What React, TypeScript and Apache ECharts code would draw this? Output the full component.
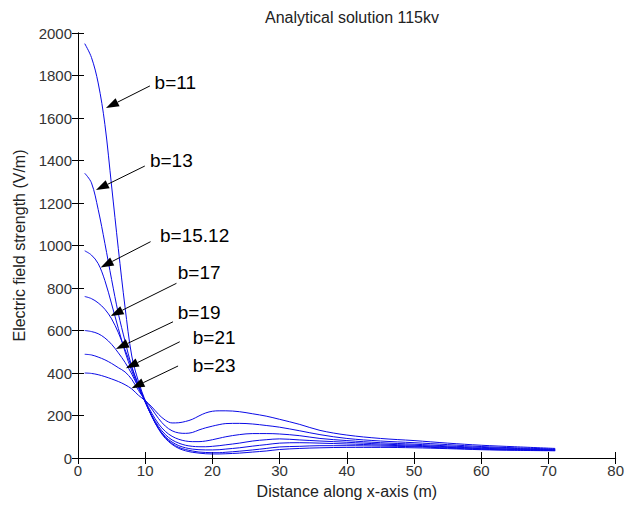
import React, { useEffect, useRef } from "react";
import * as echarts from "echarts";

const xs = [1, 2, 3, 4, 5, 6, 7, 8, 9, 10, 11, 12, 13, 14, 15, 16, 17, 18, 19, 20, 21, 22, 24, 26, 28, 30, 33, 36, 40, 45, 50, 55, 60, 65, 71];

const b11 = [1950, 1885, 1765, 1570, 1280, 985, 710, 480, 360, 270, 195, 135, 92, 64, 45, 34, 27, 23, 20, 19, 19, 20, 23, 28, 33, 40, 45, 48, 50, 50, 48, 44, 39, 36, 34];
const b13 = [1340, 1295, 1170, 1010, 840, 680, 550, 430, 345, 265, 195, 138, 96, 68, 50, 40, 33, 28, 26, 25, 25, 27, 32, 38, 45, 52, 55, 58, 58, 56, 53, 47, 41, 38, 35];
const b1512 = [975, 955, 915, 835, 725, 610, 500, 410, 335, 262, 195, 140, 100, 75, 58, 48, 42, 39, 38, 38, 39, 42, 48, 56, 63, 70, 72, 70, 66, 61, 56, 50, 44, 40, 37];
const b17 = [760, 750, 730, 700, 655, 590, 510, 425, 340, 265, 200, 148, 110, 85, 70, 60, 55, 53, 53, 55, 58, 62, 70, 80, 86, 90, 85, 80, 74, 66, 60, 53, 46, 42, 38];
const b19 = [600, 595, 585, 565, 535, 495, 450, 395, 330, 268, 210, 160, 125, 102, 88, 80, 77, 77, 80, 86, 93, 100, 110, 115, 115, 113, 105, 92, 82, 72, 65, 57, 50, 45, 40];
const b21 = [488, 485, 475, 462, 445, 425, 405, 370, 318, 272, 230, 185, 150, 128, 118, 116, 120, 132, 142, 150, 157, 162, 163, 160, 153, 145, 128, 110, 92, 80, 72, 63, 54, 48, 42];
const b23 = [400, 398, 392, 383, 372, 360, 345, 325, 295, 270, 240, 205, 178, 165, 166, 172, 182, 198, 212, 220, 222, 222, 218, 208, 197, 182, 158, 130, 108, 92, 82, 70, 60, 53, 45];

const seriesNames = ["b=11", "b=13", "b=15.12", "b=17", "b=19", "b=21", "b=23"];
const seriesValues = [b11, b13, b1512, b17, b19, b21, b23];

// annotation: label text, label anchor (data), arrow tail (data), arrow tip (data)
const annLabels = ["b=11", "b=13", "b=15.12", "b=17", "b=19", "b=21", "b=23"];
const annLabelPos = [[11.4, 1765], [10.7, 1402], [12.2, 1045], [14.84, 875], [14.84, 687], [17.07, 569], [17.07, 433]];
const annTail = [[10.7, 1751], [9.94, 1374], [10.8, 1018], [14.65, 822], [14.14, 641], [15.14, 547], [14.89, 433]];
const annTip = [[4.16, 1647], [2.67, 1261], [3.37, 897], [4.85, 668], [5.64, 513], [7.12, 422], [7.97, 328]];

const titleText = "Analytical solution 115kv";
const xName = "Distance along x-axis (m)";
const yName = "Electric field strength (V/m)";

const FONT = "'Liberation Sans', Arial, sans-serif";

export default function App() {
  const ref = useRef<HTMLDivElement>(null);
  useEffect(() => {
    if (!ref.current) return;
    const chart = echarts.init(ref.current, undefined, { renderer: "svg" });
    const axisLine = { show: true, lineStyle: { color: "#000", width: 1 } };
    const tick = { show: true, inside: true, length: 6, lineStyle: { color: "#000" } };
    const lbl = { color: "#333", fontSize: 15, fontFamily: FONT, formatter: (v: number) => String(v) };
    chart.setOption({
      animation: false,
      backgroundColor: "#fff",
      title: {
        text: titleText,
        left: 347,
        textAlign: "center",
        top: 4,
        textStyle: { fontSize: 16, fontWeight: "normal", color: "#222", fontFamily: FONT },
      },
      grid: { left: 78, right: 10, top: 33, bottom: 51, containLabel: false },
      xAxis: [
        {
          type: "value", min: 0, max: 80, interval: 10, position: "bottom",
          name: xName, nameLocation: "middle", nameGap: 25,
          nameTextStyle: { fontSize: 16, color: "#222", fontFamily: FONT },
          axisLine, axisTick: tick, splitLine: { show: false },
          axisLabel: { ...lbl, margin: 5 },
        },
        {
          type: "value", min: 0, max: 80, interval: 10, position: "top",
          axisLine, axisTick: tick, splitLine: { show: false }, axisLabel: { show: false },
        },
      ],
      yAxis: [
        {
          type: "value", min: 0, max: 2000, interval: 200, position: "left",
          name: yName, nameLocation: "middle", nameGap: 51,
          nameTextStyle: { fontSize: 16, color: "#222", fontFamily: FONT },
          axisLine, axisTick: tick, splitLine: { show: false },
          axisLabel: { ...lbl, margin: 6 },
        },
        {
          type: "value", min: 0, max: 2000, interval: 200, position: "right",
          axisLine, axisTick: tick, splitLine: { show: false }, axisLabel: { show: false },
        },
      ],
      series: seriesValues.map((vals, i) => ({
        name: seriesNames[i],
        type: "line",
        xAxisIndex: 0,
        yAxisIndex: 0,
        data: xs.map((x, j) => [x, vals[j]]),
        showSymbol: false,
        smooth: 0.35,
        lineStyle: { color: "#0a0ae6", width: 1 },
        itemStyle: { color: "#0a0ae6" },
      })),
    });

    const graphics: any[] = [];
    for (let i = 0; i < annLabels.length; i++) {
      const lp = chart.convertToPixel({ gridIndex: 0 }, annLabelPos[i]) as number[];
      const tl = chart.convertToPixel({ gridIndex: 0 }, annTail[i]) as number[];
      const tp = chart.convertToPixel({ gridIndex: 0 }, annTip[i]) as number[];
      const dx = tp[0] - tl[0];
      const dy = tp[1] - tl[1];
      const len = Math.sqrt(dx * dx + dy * dy);
      const ux = dx / len, uy = dy / len;
      const L = 13, W = 4.5;
      const bx = tp[0] - ux * L, by = tp[1] - uy * L;
      graphics.push({
        type: "line",
        shape: { x1: tl[0], y1: tl[1], x2: bx, y2: by },
        style: { stroke: "#000", lineWidth: 1 },
        z: 100,
      });
      graphics.push({
        type: "polygon",
        shape: { points: [[tp[0], tp[1]], [bx - uy * W, by + ux * W], [bx + uy * W, by - ux * W]] },
        style: { fill: "#000" },
        z: 100,
      });
      graphics.push({
        type: "text",
        x: lp[0],
        y: lp[1],
        style: {
          text: annLabels[i],
          font: `19px ${FONT}`,
          fill: "#000",
          textVerticalAlign: "middle",
          verticalAlign: "middle",
        },
        z: 100,
      });
    }
    chart.setOption({ graphic: graphics });

    return () => chart.dispose();
  }, []);
  return (
    <div
      ref={ref}
      style={{ position: "fixed", left: 0, top: 0, width: 627, height: 509, background: "#fff" }}
    />
  );
}
